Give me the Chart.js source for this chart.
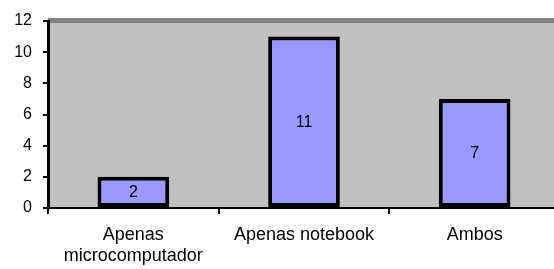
<!DOCTYPE html>
<html>
<head>
<meta charset="utf-8">
<script src="https://cdn.jsdelivr.net/npm/chart.js@4"></script>
<style>
	html, body { margin: 0; padding: 0; background: #fff; overflow: hidden; }
	#wrap { width: 562px; height: 269px; }
</style>
</head>
<body>
<div id="wrap"><canvas id="barChart"></canvas></div>
<script>
const categories = [['Apenas', 'microcomputador'], 'Apenas notebook', 'Ambos'];
const values = [2, 11, 7];
const yTicks = [0, 2, 4, 6, 8, 10, 12];

const FAMILY = '"Liberation Sans", Arial, sans-serif';

// plot area background + top border, like the Excel chart
const plotBg = {
	id: 'plotBg',
	beforeDraw(chart) {
		const { ctx, chartArea: a } = chart;
		ctx.save();
		ctx.fillStyle = '#C0C0C0';
		ctx.fillRect(a.left, a.top, a.right - a.left, a.bottom - a.top);
		ctx.fillStyle = '#808080';
		ctx.fillRect(a.left, a.top - 3, a.right - a.left, 5);
		ctx.restore();
	}
};

// value labels in the middle of each bar
const barLabels = {
	id: 'barLabels',
	afterDatasetsDraw(chart) {
		const { ctx } = chart;
		const meta = chart.getDatasetMeta(0);
		ctx.save();
		ctx.font = '16px ' + FAMILY;
		ctx.fillStyle = '#000';
		ctx.textAlign = 'center';
		ctx.textBaseline = 'middle';
		meta.data.forEach((bar, i) => {
			ctx.fillText(String(values[i]), bar.x, (bar.y + bar.base) / 2 + 1);
		});
		ctx.restore();
	}
};

document.addEventListener('DOMContentLoaded', () => {
	new Chart(document.getElementById('barChart'), {
		type: 'bar',
		data: {
			labels: categories,
			datasets: [{
				data: values,
				backgroundColor: '#9999FF',
				borderColor: '#000000',
				borderWidth: 4,
				borderSkipped: false,
				categoryPercentage: 1,
				barPercentage: 0.42
			}]
		},
		options: {
			responsive: true,
			maintainAspectRatio: false,
			animation: false,
			layout: { padding: { top: 21, left: 0, right: 2, bottom: 0 } },
			plugins: {
				legend: { display: false },
				tooltip: { enabled: false }
			},
			scales: {
				x: {
					grid: {
						offset: true,
						drawOnChartArea: false,
						color: '#000',
						tickLength: 6,
						lineWidth: 2
					},
					border: { color: '#000', width: 2 },
					ticks: { color: '#000', font: { family: FAMILY, size: 18 }, padding: 10, maxRotation: 0 },
					afterFit(scale) { scale.height = 61; }
				},
				y: {
					min: 0,
					max: 12,
					afterBuildTicks(scale) { scale.ticks = yTicks.map(v => ({ value: v })); },
					grid: {
						drawOnChartArea: false,
						color: '#000',
						tickLength: 5,
						lineWidth: 2
					},
					border: { color: '#000', width: 3 },
					ticks: { color: '#000', font: { family: FAMILY, size: 16 }, padding: 11 },
					afterFit(scale) { scale.width = 48; }
				}
			}
		},
		plugins: [plotBg, barLabels]
	});
});
</script>
</body>
</html>
